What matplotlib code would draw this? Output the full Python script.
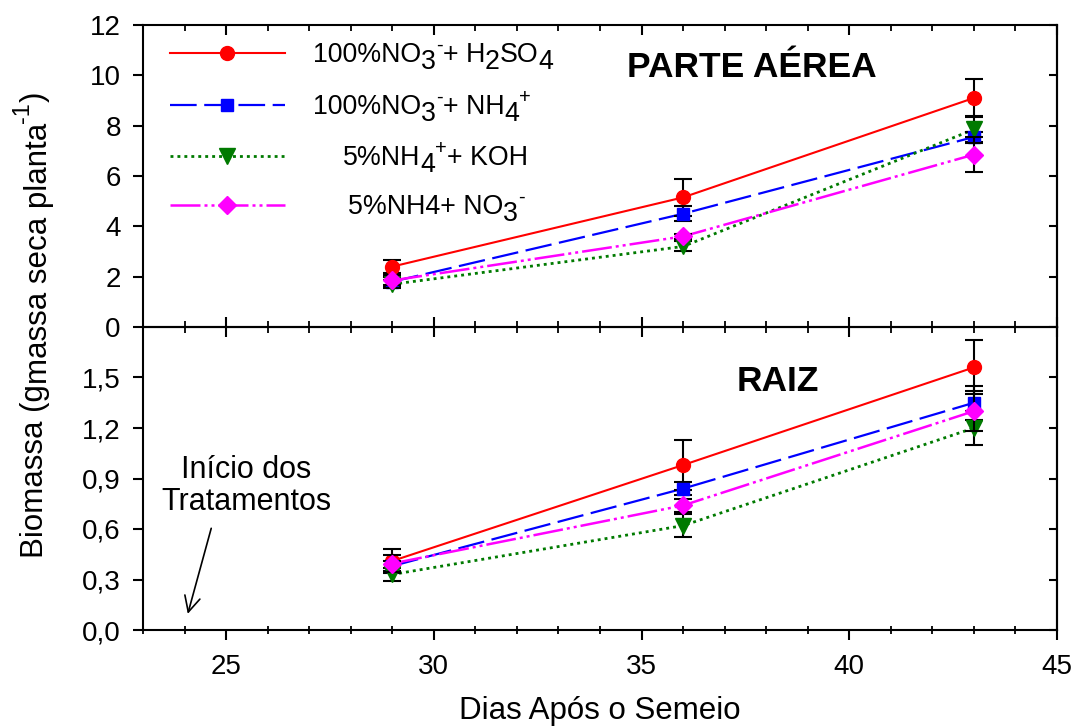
import matplotlib
matplotlib.use("Agg")
import matplotlib.pyplot as plt
from matplotlib.transforms import offset_copy
from matplotlib.ticker import MultipleLocator, FixedLocator

plt.rcParams['font.family'] = ['Liberation Sans', 'DejaVu Sans']

# ---------------- data ----------------
days = [29, 36, 43]

shoot_no3_h2so4 = [2.4, 5.15, 9.1]
shoot_no3_h2so4_err = [0.25, 0.75, 0.75]
shoot_no3_nh4 = [1.8, 4.5, 7.55]
shoot_no3_nh4_err = [0.2, 0.3, 0.2]
shoot_nh4_koh = [1.7, 3.2, 7.85]
shoot_nh4_koh_err = [0.15, 0.2, 0.55]
shoot_nh4_no3 = [1.85, 3.6, 6.85]
shoot_nh4_no3_err = [0.2, 0.1, 0.7]

root_no3_h2so4 = [0.41, 0.98, 1.56]
root_no3_h2so4_err = [0.07, 0.15, 0.16]
root_no3_nh4 = [0.38, 0.84, 1.35]
root_no3_nh4_err = [0.03, 0.04, 0.1]
root_nh4_koh = [0.33, 0.62, 1.2]
root_nh4_koh_err = [0.04, 0.07, 0.1]
root_nh4_no3 = [0.395, 0.74, 1.3]
root_nh4_no3_err = [0.05, 0.04, 0.12]

top_yticks = [0, 2, 4, 6, 8, 10, 12]
bottom_yticks = [0.0, 0.3, 0.6, 0.9, 1.2, 1.5]
bottom_ytick_labels = ['0,0', '0,3', '0,6', '0,9', '1,2', '1,5']
xticks = [25, 30, 35, 40, 45]

# ---------------- styles ----------------
styles = [
    dict(color='#ff0000', marker='o', ms=10, lw=1.5, dashes=None),
    dict(color='#0000ff', marker='s', ms=9, lw=1.6, dashes=(12, 3.4)),
    dict(color='#007a00', marker='v', ms=11, lw=2.0, dashes=(1.05, 1.45)),
    dict(color='#ff00ff', marker='D', ms=9.5, lw=1.8, dashes=(12, 1.6, 1.2, 1.6, 1.2, 1.6)),
]

legend_pieces = [
    [("100%NO", 0, 1), ("3", -5, 1), ("-", 8, 0.75), ("+ H", 0, 1), ("2", -5, 1), ("SO", 0, 1), ("4", -5, 1)],
    [("100%NO", 0, 1), ("3", -5, 1), ("-", 8, 0.75), ("+ NH", 0, 1), ("4", -5, 1), ("+", 8, 0.75)],
    [("5%NH", 0, 1), ("4", -5, 1), ("+", 8, 0.75), ("+ KOH", 0, 1)],
    [("5%NH4+ NO", 0, 1), ("3", -5, 1), ("-", 8, 0.75)],
]

TICK_FS = 20
W, H = 1074, 726
fig = plt.figure(figsize=(W / 100, H / 100), dpi=100)
left, right = 143 / W, 1057 / W
mid = 1 - 327 / H
ax1 = fig.add_axes([left, mid, right - left, (1 - 25 / H) - mid])
ax2 = fig.add_axes([left, 1 - 630 / H, right - left, mid - (1 - 630 / H)])

def style_axes(ax, top_panel):
    for sp in ax.spines.values():
        sp.set_linewidth(1.5)
    ax.set_xlim(23, 45)
    ax.xaxis.set_major_locator(FixedLocator(xticks))
    ax.xaxis.set_minor_locator(MultipleLocator(1))
    ax.tick_params(axis='both', which='major', width=1.5, labelsize=TICK_FS)
    ax.tick_params(axis='both', which='minor', width=1.3)
    ax.tick_params(axis='y', which='major', left=True, right=False, direction='out', length=7, pad=9)
    if top_panel:
        ax.tick_params(axis='x', which='major', bottom=True, top=True, direction='in', length=7,
                       labelbottom=False)
        ax.tick_params(axis='x', which='minor', bottom=True, top=True, direction='in', length=4)
    else:
        ax.tick_params(axis='x', which='major', bottom=True, top=False, direction='out', length=7, pad=10)
        ax.tick_params(axis='x', which='minor', bottom=True, top=False, direction='inout', length=6)
    sec = ax.secondary_yaxis('right')
    sec.spines['right'].set_linewidth(1.5)
    sec.tick_params(axis='y', which='major', direction='in', length=6, width=1.5, labelright=False)
    return sec

sec1 = style_axes(ax1, True)
ax1.set_ylim(0, 12)
ax1.set_yticks(top_yticks)
sec1.set_yticks(top_yticks)

sec2 = style_axes(ax2, False)
ax2.set_ylim(0, 1.8)
ax2.set_yticks(bottom_yticks)
ax2.set_yticklabels(bottom_ytick_labels)
sec2.set_yticks(bottom_yticks)
ax2.set_xticks(xticks)
ax2.set_xticklabels([str(t) for t in xticks])
sx = ax2.secondary_xaxis('top')
sx.set_xticks(xticks)
sx.xaxis.set_minor_locator(MultipleLocator(1))
sx.tick_params(axis='x', which='major', direction='in', length=7, width=1.5, labeltop=False)
sx.tick_params(axis='x', which='minor', direction='in', length=4, width=1.3)

top_series = [(shoot_no3_h2so4, shoot_no3_h2so4_err), (shoot_no3_nh4, shoot_no3_nh4_err),
              (shoot_nh4_koh, shoot_nh4_koh_err), (shoot_nh4_no3, shoot_nh4_no3_err)]
bot_series = [(root_no3_h2so4, root_no3_h2so4_err), (root_no3_nh4, root_no3_nh4_err),
              (root_nh4_koh, root_nh4_koh_err), (root_nh4_no3, root_nh4_no3_err)]

def draw(ax, series):
    for i, ((vals, errs), st) in enumerate(zip(series, styles)):
        ln, = ax.plot(days, vals, color=st['color'], lw=st['lw'], zorder=2 + 0.1 * i)
        if st['dashes'] is not None:
            ln.set_dashes(st['dashes'])
        ax.errorbar(days, vals, yerr=errs, fmt='none', ecolor='black', elinewidth=1.5,
                    capsize=6.5, capthick=1.5, zorder=3 + i)
        ax.plot(days, vals, ls='none', marker=st['marker'], ms=st['ms'], color=st['color'],
                mec=st['color'], zorder=3.5 + i, clip_on=False)

draw(ax1, top_series)
draw(ax2, bot_series)

renderer = fig.canvas.get_renderer()

def rich(x, y, trans, pieces, size, ha='left', rotation=0, **kw):
    texts, widths = [], []
    for s, dy, sc in pieces:
        t = fig.text(0, 0, s, fontsize=size * sc, rotation=rotation, ha='left', va='baseline',
                     rotation_mode='anchor', **kw)
        bb = t.get_window_extent(renderer)
        texts.append((t, dy))
        widths.append(bb.width if rotation == 0 else bb.height)
    total = sum(widths)
    cum = 0 if ha == 'left' else -total / 2
    for (t, dy), w in zip(texts, widths):
        dyd = dy * fig.dpi / 72
        if rotation == 0:
            tr = offset_copy(trans, fig=fig, x=cum, y=dyd, units='dots')
        else:
            tr = offset_copy(trans, fig=fig, x=-dyd, y=cum, units='dots')
        t.set_transform(tr)
        t.set_position((x, y))
        cum += w

def ax_xy(px, py):
    return ((px - 143) / 914, (327 - py) / 302)

rows_py = [53, 105, 156, 205]
text_px = [313, 313, 343, 348]
for st, py, tx, pieces in zip(styles, rows_py, text_px, legend_pieces):
    x0, yy = ax_xy(170, py)
    x1, _ = ax_xy(285, py)
    xm, _ = ax_xy(227, py)
    ln, = ax1.plot([x0, x1], [yy, yy], transform=ax1.transAxes, color=st['color'], lw=st['lw'])
    if st['dashes'] is not None:
        ln.set_dashes(st['dashes'])
    ax1.plot([xm], [yy], transform=ax1.transAxes, ls='none', marker=st['marker'], ms=st['ms'],
             color=st['color'])
    xl, yb = ax_xy(tx, py + 9)
    rich(xl, yb, ax1.transAxes, pieces, 19.3, ha='left')

ax1.text(0.666, 0.828, 'PARTE AÉREA', transform=ax1.transAxes, fontsize=25.5, fontweight='bold',
         ha='center', va='baseline')
ax2.text(0.695, 0.79, 'RAIZ', transform=ax2.transAxes, fontsize=25.5, fontweight='bold',
         ha='center', va='baseline')

ax2.text(25.48, 0.855, 'Início dos\nTratamentos', fontsize=22, ha='center', va='center',
         linespacing=1.05)
ax2.annotate('', xy=(24.06, 0.08), xytext=(24.66, 0.62),
             arrowprops=dict(arrowstyle='->', lw=1.2, color='black', mutation_scale=28))

fig.text(600 / W, 1 - 719 / H, 'Dias Após o Semeio', fontsize=22.5, ha='center', va='baseline')
rich(43 / W, 1 - 558 / H, fig.transFigure,
     [("Biomassa (g", 0, 1), ("massa seca planta", -3, 1), ("-1", 10, 0.75), (")", 0, 1)],
     22.5, ha='left', rotation=90)

fig.savefig('out.png', dpi=100)
